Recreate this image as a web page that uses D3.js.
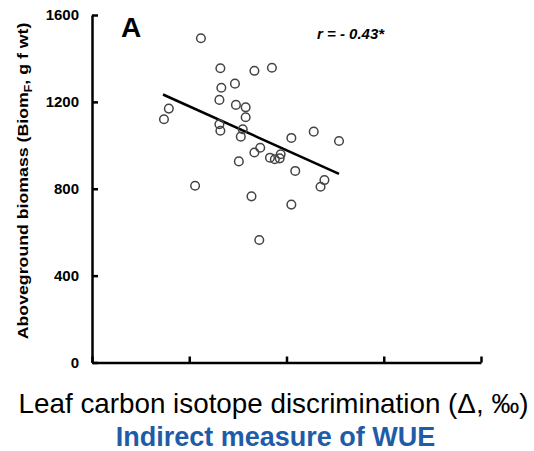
<!DOCTYPE html>
<html>
<head>
<meta charset="utf-8">
<script src="https://cdn.jsdelivr.net/npm/d3@7/dist/d3.min.js"></script>
<style>
  body { margin: 0; background: #fff; }
  svg { display: block; font-family: "Liberation Sans", Arial, sans-serif; }
</style>
</head>
<body>
<div id="chart"></div>
<script>
// leaf carbon isotope discrimination (x) vs aboveground biomass (y)
const deltaVals = [
  19.12, 19.32, 19.67, 19.85, 19.33, 19.47, 19.31, 19.48, 19.58, 19.58,
  18.79, 18.74, 19.31, 19.32, 19.55, 19.53, 20.05, 20.28, 20.54, 19.73,
  19.67, 19.83, 19.88, 19.93, 19.94, 19.51, 20.09, 20.39, 20.35, 19.06,
  19.64, 20.05, 19.72
];
const biomassVals = [
  1493, 1355, 1343, 1357, 1265, 1284, 1209, 1186, 1175, 1129,
  1169, 1120, 1097, 1067, 1074, 1040, 1034, 1063, 1020, 989,
  967, 943, 936, 940, 959, 926, 882, 840, 809, 814,
  765, 727, 564
];
// regression line end points
const fitX = [18.73, 20.54];
const fitY = [1234, 868];

const yTicks = [0, 400, 800, 1200, 1600];
const xTicks = [18, 19, 20, 21, 22];

const width = 534, height = 451;
const svg = d3.select('#chart').append('svg')
  .attr('width', width)
  .attr('height', height);

const x = d3.scaleLinear().domain([18, 22]).range([92, 481]);
const y = d3.scaleLinear().domain([0, 1600]).range([362.5, 15]);

// y axis
const yAxis = svg.append('g')
  .attr('transform', 'translate(92,0)')
  .call(d3.axisLeft(y).tickValues(yTicks).tickFormat(d3.format('d'))
    .tickSizeInner(-6).tickSizeOuter(0).tickPadding(13));
yAxis.select('.domain').attr('stroke', '#000').attr('stroke-width', 2.5);
yAxis.selectAll('.tick line').attr('stroke', '#000').attr('stroke-width', 2.5);
yAxis.selectAll('.tick text')
  .attr('fill', '#000')
  .attr('font-family', '"Liberation Sans", Arial, sans-serif')
  .attr('font-size', '15px')
  .attr('font-weight', 'bold');

// x axis (no labels)
const xAxis = svg.append('g')
  .attr('transform', 'translate(0,362.5)')
  .call(d3.axisBottom(x).tickValues(xTicks).tickSizeInner(-6).tickSizeOuter(0).tickFormat(''));
xAxis.select('.domain').attr('stroke', '#000').attr('stroke-width', 2.5);
xAxis.selectAll('.tick line').attr('stroke', '#000').attr('stroke-width', 2.5);

// trend line
svg.append('line')
  .attr('x1', x(fitX[0])).attr('y1', y(fitY[0]))
  .attr('x2', x(fitX[1])).attr('y2', y(fitY[1]))
  .attr('stroke', '#000')
  .attr('stroke-width', 2.5);

// points
svg.append('g').selectAll('circle')
  .data(d3.range(deltaVals.length))
  .join('circle')
  .attr('cx', i => x(deltaVals[i]))
  .attr('cy', i => y(biomassVals[i]))
  .attr('r', 4.3)
  .attr('fill', 'none')
  .attr('stroke', '#444')
  .attr('stroke-width', 1.5);

// panel letter and r value
svg.append('text')
  .attr('x', 121).attr('y', 37)
  .attr('font-size', '28px')
  .attr('font-weight', 'bold')
  .text('A');

svg.append('text')
  .attr('x', 317).attr('y', 39)
  .attr('font-size', '15px')
  .attr('font-weight', 'bold')
  .attr('font-style', 'italic')
  .text('r = - 0.43*');

// y label, stretched along its length to fit the axis
const yLabG = svg.append('g');
const yLab = yLabG.append('text')
  .attr('text-anchor', 'middle')
  .attr('font-size', '14.5px')
  .attr('font-weight', 'bold');
yLab.append('tspan').text('Aboveground biomass (Biom');
yLab.append('tspan').attr('font-size', '10px').attr('dy', 4).text('F');
yLab.append('tspan').attr('dy', -4).text(', g f wt)');
let labLen = yLab.node().getBBox().width;
yLabG.attr('transform', 'translate(28,181) rotate(-90) scale(' + (317 / labLen) + ',1)');

// x labels
svg.append('text')
  .attr('x', 273.5).attr('y', 413)
  .attr('text-anchor', 'middle')
  .attr('font-size', '27.8px')
  .attr('fill', '#000')
  .text('Leaf carbon isotope discrimination (\u0394, \u2030)');

svg.append('text')
  .attr('x', 275.5).attr('y', 445.5)
  .attr('text-anchor', 'middle')
  .attr('font-size', '27px')
  .attr('font-weight', 'bold')
  .attr('fill', '#1f5ca8')
  .text('Indirect measure of WUE');
</script>
</body>
</html>
